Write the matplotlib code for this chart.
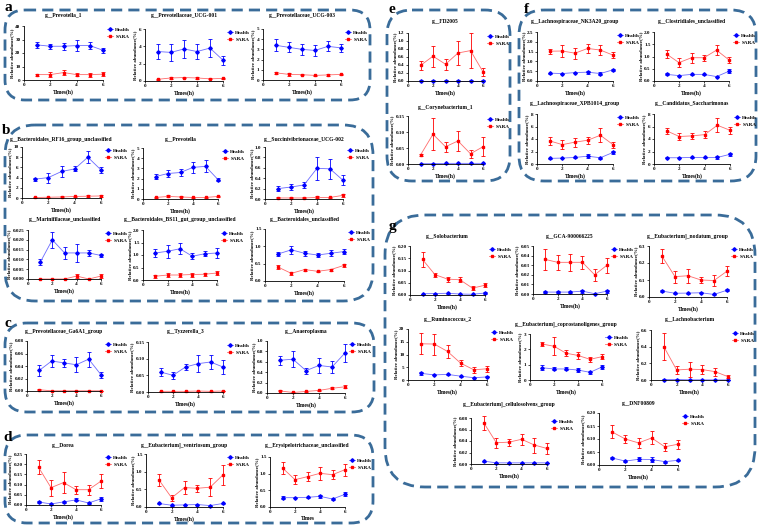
import matplotlib
matplotlib.use('Agg')
import matplotlib.pyplot as plt
from matplotlib.patches import FancyBboxPatch
from matplotlib.lines import Line2D

plt.rcParams['font.family'] = ['Liberation Serif', 'DejaVu Serif']
plt.rcParams['font.weight'] = 'bold'

W, H = 758, 526
times = [1, 2, 3, 4, 5, 6]
x_ticks = [0, 2, 4, 6]

# ---------------- data ----------------
a1_title = 'g__Prevotella_1'
a1_health = [26, 25, 25, 25.5, 25.5, 22]
a1_health_err = [2.5, 2, 2.5, 4, 2.5, 2]
a1_sara = [4, 4, 5.5, 4, 4, 4.3]
a1_sara_err = [0.8, 2, 2, 1.2, 1.5, 1.5]
a1_yticks = [0, 10, 20, 30, 40]

a2_title = 'g__Prevotellaceae_UCG-001'
a2_health = [3.4, 3.3, 3.7, 3.4, 3.8, 2.4]
a2_health_err = [0.9, 1.0, 1.0, 0.9, 1.0, 0.5]
a2_sara = [0.2, 0.35, 0.4, 0.35, 0.25, 0.3]
a2_sara_err = [0.05, 0.15, 0.1, 0.1, 0.05, 0.1]
a2_yticks = [0, 2, 4, 6]

a3_title = 'g__Prevotellaceae_UCG-003'
a3_health = [3.4, 3.2, 3.0, 2.9, 3.3, 3.15]
a3_health_err = [0.6, 0.5, 0.5, 0.5, 0.5, 0.4]
a3_sara = [0.7, 0.55, 0.52, 0.45, 0.5, 0.55]
a3_sara_err = [0.1, 0.15, 0.05, 0.05, 0.1, 0.05]
a3_yticks = [0, 1, 2, 3, 4, 5]

b1_title = 'g__Bacteroidales_RF16_group_unclassified'
b1_health = [3.7, 4.0, 5.2, 5.7, 8.0, 5.5]
b1_health_err = [0.3, 1.0, 1.1, 0.5, 1.2, 0.6]
b1_sara = [0.1, 0.15, 0.2, 0.3, 0.35, 0.4]
b1_sara_err = [0.05, 0.1, 0.1, 0.15, 0.2, 0.2]
b1_yticks = [0, 2, 4, 6, 8, 10]

b2_title = 'g__Prevotella'
b2_health = [2.2, 2.5, 2.6, 3.1, 3.2, 1.9]
b2_health_err = [0.25, 0.3, 0.3, 0.55, 0.6, 0.15]
b2_sara = [0.15, 0.25, 0.2, 0.15, 0.15, 0.25]
b2_sara_err = [0.05, 0.1, 0.05, 0.05, 0.05, 0.05]
b2_yticks = [0, 1, 2, 3, 4, 5]

b3_title = 'g__Succinivibrionaceae_UCG-002'
b3_health = [0.2, 0.23, 0.27, 0.59, 0.58, 0.36]
b3_health_err = [0.05, 0.05, 0.06, 0.22, 0.19, 0.1]
b3_sara = [0.02, 0.02, 0.02, 0.03, 0.03, 0.07]
b3_sara_err = [0.01, 0.01, 0.01, 0.02, 0.01, 0.03]
b3_yticks = [0, 0.2, 0.4, 0.6, 0.8, 1.0]

b4_title = 'g__Marinifilaceae_unclassified'
b4_health = [0.0085, 0.020, 0.0133, 0.0133, 0.0133, 0.012]
b4_health_err = [0.0015, 0.004, 0.003, 0.0045, 0.0015, 0.001]
b4_sara = [0.0, 0.0, 0.0, 0.0015, 0.0, 0.0015]
b4_sara_err = [0.0, 0.0, 0.0, 0.001, 0.0, 0.001]
b4_yticks = [0, 0.005, 0.010, 0.015, 0.020, 0.025]

b5_title = 'g__Bacteroidales_BS11_gut_group_unclassified'
b5_health = [1.08, 1.15, 1.25, 0.95, 1.05, 1.08]
b5_health_err = [0.15, 0.25, 0.22, 0.12, 0.1, 0.2]
b5_sara = [0.15, 0.2, 0.2, 0.22, 0.23, 0.28]
b5_sara_err = [0.05, 0.08, 0.08, 0.08, 0.05, 0.08]
b5_yticks = [0, 0.5, 1.0, 1.5, 2.0]

b6_title = 'g__Bacteroidales_unclassified'
b6_health = [0.78, 0.9, 0.8, 0.75, 0.8, 0.85]
b6_health_err = [0.05, 0.12, 0.07, 0.05, 0.08, 0.08]
b6_sara = [0.4, 0.22, 0.33, 0.28, 0.33, 0.45]
b6_sara_err = [0.05, 0.04, 0.03, 0.02, 0.03, 0.05]
b6_yticks = [0, 0.5, 1.0, 1.5]

c1_title = 'g__Prevotellaceae_Ga6A1_group'
c1_health = [0.033, 0.048, 0.045, 0.042, 0.051, 0.026]
c1_health_err = [0.009, 0.01, 0.006, 0.012, 0.012, 0.005]
c1_sara = [0.002, 0.0003, 0.0003, 0.0003, 0.0003, 0.0003]
c1_sara_err = [0.001, 0.0002, 0.0002, 0.0002, 0.0002, 0.0002]
c1_yticks = [0, 0.02, 0.04, 0.06, 0.08]

c2_title = 'g__Tyzzerella_3'
c2_health = [0.06, 0.05, 0.075, 0.085, 0.09, 0.075]
c2_health_err = [0.012, 0.01, 0.01, 0.025, 0.02, 0.02]
c2_sara = [0.002, 0.002, 0.002, 0.003, 0.002, 0.003]
c2_sara_err = [0.001, 0.001, 0.001, 0.001, 0.001, 0.001]
c2_yticks = [0, 0.05, 0.10, 0.15]

c3_title = 'g__Anaeroplasma'
c3_health = [0.63, 0.65, 0.43, 0.53, 0.5, 0.77]
c3_health_err = [0.09, 0.15, 0.06, 0.14, 0.12, 0.18]
c3_sara = [0.04, 0.01, 0.03, 0.05, 0.09, 0.12]
c3_sara_err = [0.01, 0.01, 0.01, 0.01, 0.02, 0.03]
c3_yticks = [0, 0.2, 0.4, 0.6, 0.8, 1.0]

d1_title = 'g__Dorea'
d1_health = [0.015, 0.005, 0.015, 0.025, 0.01, 0.03]
d1_health_err = [0.003, 0.003, 0.005, 0.007, 0.003, 0.008]
d1_sara = [0.185, 0.085, 0.11, 0.075, 0.075, 0.117]
d1_sara_err = [0.035, 0.04, 0.05, 0.02, 0.025, 0.035]
d1_yticks = [0, 0.05, 0.10, 0.15, 0.20, 0.25]

d2_title = 'g__Eubacterium]_ventriosum_group'
d2_health = [0.1, 0.05, 0.06, 0.07, 0.04, 0.1]
d2_health_err = [0.02, 0.01, 0.01, 0.01, 0.01, 0.02]
d2_sara = [0.77, 0.26, 0.55, 0.53, 0.56, 0.91]
d2_sara_err = [0.17, 0.08, 0.18, 0.1, 0.25, 0.28]
d2_yticks = [0, 0.5, 1.0, 1.5]

d3_title = 'g__Erysipelotrichaceae_unclassified'
d3_health = [0.28, 0.28, 0.29, 0.32, 0.24, 0.38]
d3_health_err = [0.04, 0.02, 0.02, 0.05, 0.03, 0.06]
d3_sara = [1.17, 0.82, 0.91, 1.01, 0.97, 1.12]
d3_sara_err = [0.17, 0.13, 0.13, 0.2, 0.13, 0.18]
d3_yticks = [0, 0.5, 1.0, 1.5]

e1_title = 'g__FD2005'
e1_health = [0.01, 0.01, 0.01, 0.01, 0.01, 0.01]
e1_health_err = [0.003, 0.003, 0.003, 0.003, 0.003, 0.003]
e1_sara = [0.39, 0.62, 0.42, 0.70, 0.76, 0.23]
e1_sara_err = [0.12, 0.26, 0.14, 0.3, 0.43, 0.1]
e1_yticks = [0, 0.2, 0.4, 0.6, 0.8, 1.0, 1.2]

e2_title = 'g__Corynebacterium_1'
e2_health = [0.001, 0.001, 0.002, 0.002, 0.002, 0.002]
e2_health_err = [0.0005, 0.0005, 0.001, 0.001, 0.001, 0.001]
e2_sara = [0.028, 0.093, 0.054, 0.072, 0.032, 0.054]
e2_sara_err = [0.004, 0.05, 0.015, 0.03, 0.012, 0.03]
e2_yticks = [0, 0.05, 0.10, 0.15]

f1_title = 'g__Lachnospiraceae_NK3A20_group'
f1_health = [0.4, 0.38, 0.43, 0.45, 0.38, 0.57]
f1_health_err = [0.03, 0.03, 0.03, 0.07, 0.07, 0.05]
f1_sara = [1.52, 1.53, 1.42, 1.66, 1.58, 1.32]
f1_sara_err = [0.12, 0.32, 0.28, 0.25, 0.25, 0.15]
f1_yticks = [0, 0.5, 1.0, 1.5, 2.0, 2.5]

f2_title = 'g__Clostridiales_unclassified'
f2_health = [0.27, 0.22, 0.27, 0.27, 0.18, 0.4]
f2_health_err = [0.04, 0.02, 0.02, 0.02, 0.02, 0.08]
f2_sara = [1.1, 0.75, 0.95, 0.95, 1.26, 0.86]
f2_sara_err = [0.15, 0.17, 0.2, 0.12, 0.2, 0.12]
f2_yticks = [0, 0.5, 1.0, 1.5, 2.0]

f3_title = 'g__Lachnospiraceae_XPB1014_group'
f3_health = [0.9, 0.95, 1.05, 1.25, 1.0, 1.85]
f3_health_err = [0.05, 0.05, 0.1, 0.3, 0.2, 0.2]
f3_sara = [3.7, 3.1, 3.5, 3.8, 4.6, 3.1]
f3_sara_err = [0.7, 0.7, 0.7, 0.6, 1.1, 0.5]
f3_yticks = [0, 2, 4, 6, 8]

f4_title = 'g__Candidatus_Saccharimonas'
f4_health = [1.0, 1.0, 1.05, 1.05, 1.05, 1.55]
f4_health_err = [0.05, 0.05, 0.05, 0.05, 0.3, 0.2]
f4_sara = [5.3, 4.4, 4.5, 4.7, 6.2, 5.4]
f4_sara_err = [0.5, 0.6, 0.5, 0.6, 1.1, 0.6]
f4_yticks = [0, 2, 4, 6, 8]

g1_title = 'g__Solobacterium'
g1_health = [0.005, 0.006, 0.007, 0.004, 0.003, 0.008]
g1_health_err = [0.001, 0.002, 0.002, 0.001, 0.001, 0.003]
g1_sara = [0.145, 0.083, 0.065, 0.062, 0.028, 0.04]
g1_sara_err = [0.03, 0.008, 0.01, 0.01, 0.008, 0.008]
g1_yticks = [0, 0.05, 0.10, 0.15, 0.20]

g2_title = 'g__GCA-900066225'
g2_health = [0.002, 0.002, 0.002, 0.003, 0.0003, 0.003]
g2_health_err = [0.001, 0.001, 0.001, 0.0015, 0.0002, 0.0015]
g2_sara = [0.036, 0.033, 0.033, 0.033, 0.02, 0.03]
g2_sara_err = [0.011, 0.008, 0.009, 0.007, 0.006, 0.008]
g2_yticks = [0, 0.01, 0.02, 0.03, 0.04, 0.05]

g3_title = 'g__Eubacterium]_nodatum_group'
g3_health = [0.035, 0.022, 0.023, 0.025, 0.015, 0.04]
g3_health_err = [0.006, 0.003, 0.003, 0.004, 0.003, 0.007]
g3_sara = [0.24, 0.12, 0.125, 0.1, 0.097, 0.152]
g3_sara_err = [0.04, 0.035, 0.04, 0.02, 0.03, 0.03]
g3_yticks = [0, 0.1, 0.2, 0.3]

g4_title = 'g__Ruminococcus_2'
g4_health = [2.6, 2.0, 2.2, 1.5, 0.9, 1.2]
g4_health_err = [0.5, 0.2, 0.3, 0.2, 0.1, 0.2]
g4_sara = [14.2, 14.1, 11.2, 6.6, 4.0, 4.4]
g4_sara_err = [4.1, 4.1, 2.5, 1.3, 1.2, 1.1]
g4_yticks = [0, 5, 10, 15, 20]

g5_title = 'g__Eubacterium]_coprostanoligenes_group'
g5_health = [0.8, 0.72, 0.72, 0.65, 0.5, 0.85]
g5_health_err = [0.15, 0.1, 0.1, 0.15, 0.1, 0.15]
g5_sara = [2.35, 2.2, 1.75, 1.6, 1.35, 1.52]
g5_sara_err = [0.15, 0.6, 0.2, 0.2, 0.15, 0.15]
g5_yticks = [0, 1, 2, 3]

g6_title = 'g__Lachnobacterium'
g6_health = [0.005, 0.006, 0.002, 0.002, 0.001, 0.001]
g6_health_err = [0.002, 0.002, 0.001, 0.001, 0.001, 0.001]
g6_sara = [0.4, 0.12, 0.13, 0.125, 0.1, 0.04]
g6_sara_err = [0.16, 0.05, 0.09, 0.05, 0.05, 0.02]
g6_yticks = [0, 0.2, 0.4, 0.6]

g7_title = 'g__Eubacterium]_cellulosolvens_group'
g7_health = [0.005, 0.002, 0.002, 0.002, 0.002, 0.002]
g7_health_err = [0.001, 0.0005, 0.0005, 0.0005, 0.0005, 0.0005]
g7_sara = [0.072, 0.037, 0.038, 0.043, 0.033, 0.027]
g7_sara_err = [0.012, 0.009, 0.006, 0.01, 0.013, 0.009]
g7_yticks = [0, 0.02, 0.04, 0.06, 0.08]

g8_title = 'g__DNF00809'
g8_health = [0.027, 0.015, 0.022, 0.021, 0.013, 0.018]
g8_health_err = [0.004, 0.003, 0.008, 0.008, 0.004, 0.003]
g8_sara = [0.127, 0.1, 0.085, 0.104, 0.07, 0.08]
g8_sara_err = [0.025, 0.015, 0.02, 0.025, 0.015, 0.018]
g8_yticks = [0, 0.05, 0.10, 0.15, 0.20]

# ---------------- layout (pixels): x at 0, x at 6, y at top, y at 0, title y ----
panels = [
    (a1_title, a1_health, a1_health_err, a1_sara, a1_sara_err, a1_yticks, (24, 103, 26, 80, 15), '{:.0f}', 'Times(h)'),
    (a2_title, a2_health, a2_health_err, a2_sara, a2_sara_err, a2_yticks, (145, 223, 29, 81, 15), '{:.0f}', 'Times(h)'),
    (a3_title, a3_health, a3_health_err, a3_sara, a3_sara_err, a3_yticks, (263, 341, 29, 80, 15), '{:.0f}', 'Times(h)'),
    (b1_title, b1_health, b1_health_err, b1_sara, b1_sara_err, b1_yticks, (22, 101, 147, 198, 139), '{:.0f}', 'Times(h)'),
    (b2_title, b2_health, b2_health_err, b2_sara, b2_sara_err, b2_yticks, (143, 218, 148, 199, 139), '{:.0f}', 'Times(h)'),
    (b3_title, b3_health, b3_health_err, b3_sara, b3_sara_err, b3_yticks, (265, 343, 147, 199, 139), '{:.1f}', 'Times(h)'),
    (b4_title, b4_health, b4_health_err, b4_sara, b4_sara_err, b4_yticks, (28, 101, 230, 279, 220), '{:.3f}', 'Times(h)'),
    (b5_title, b5_health, b5_health_err, b5_sara, b5_sara_err, b5_yticks, (143, 217, 230, 280, 220), '{:.1f}', 'Times(h)'),
    (b6_title, b6_health, b6_health_err, b6_sara, b6_sara_err, b6_yticks, (265, 344, 229, 281, 220), '{:.1f}', 'Times(h)'),
    (c1_title, c1_health, c1_health_err, c1_sara, c1_sara_err, c1_yticks, (27, 101, 341, 391, 332), '{:.2f}', 'Times(h)'),
    (c2_title, c2_health, c2_health_err, c2_sara, c2_sara_err, c2_yticks, (148, 223, 342, 392, 332), '{:.2f}', 'Times(h)'),
    (c3_title, c3_health, c3_health_err, c3_sara, c3_sara_err, c3_yticks, (267, 345, 341, 393, 332), '{:.1f}', 'Times(h)'),
    (d1_title, d1_health, d1_health_err, d1_sara, d1_sara_err, d1_yticks, (26, 101, 454, 505, 445), '{:.2f}', 'Times(h)'),
    (d2_title, d2_health, d2_health_err, d2_sara, d2_sara_err, d2_yticks, (146, 223, 454, 507, 445), '{:.1f}', 'Times(h)'),
    (d3_title, d3_health, d3_health_err, d3_sara, d3_sara_err, d3_yticks, (270, 345, 457, 507, 445), '{:.1f}', 'Times'),
    (e1_title, e1_health, e1_health_err, e1_sara, e1_sara_err, e1_yticks, (408, 483, 33, 81, 22), '{:.1f}', 'Times(h)'),
    (e2_title, e2_health, e2_health_err, e2_sara, e2_sara_err, e2_yticks, (408, 483, 116, 164, 107), '{:.2f}', 'Times(h)'),
    (f1_title, f1_health, f1_health_err, f1_sara, f1_sara_err, f1_yticks, (537, 613, 32, 81, 22), '{:.1f}', 'Times(h)'),
    (f2_title, f2_health, f2_health_err, f2_sara, f2_sara_err, f2_yticks, (654, 729, 32, 81, 22), '{:.1f}', 'Times(h)'),
    (f3_title, f3_health, f3_health_err, f3_sara, f3_sara_err, f3_yticks, (537, 613, 114, 164, 104), '{:.0f}', 'Times(h)'),
    (f4_title, f4_health, f4_health_err, f4_sara, f4_sara_err, f4_yticks, (654, 730, 114, 164, 104), '{:.0f}', 'Times(h)'),
    (g1_title, g1_health, g1_health_err, g1_sara, g1_sara_err, g1_yticks, (410, 485, 246, 295, 236), '{:.2f}', 'Times(h)'),
    (g2_title, g2_health, g2_health_err, g2_sara, g2_sara_err, g2_yticks, (533, 607, 246, 294, 236), '{:.2f}', 'Times(h)'),
    (g3_title, g3_health, g3_health_err, g3_sara, g3_sara_err, g3_yticks, (649, 727, 246, 297, 236), '{:.1f}', 'Times(h)'),
    (g4_title, g4_health, g4_health_err, g4_sara, g4_sara_err, g4_yticks, (408, 487, 329, 380, 320), '{:.0f}', 'Times(h)'),
    (g5_title, g5_health, g5_health_err, g5_sara, g5_sara_err, g5_yticks, (530, 602, 334, 380, 324), '{:.0f}', 'Times(h)'),
    (g6_title, g6_health, g6_health_err, g6_sara, g6_sara_err, g6_yticks, (651, 728, 330, 380, 320), '{:.1f}', 'Times(h)'),
    (g7_title, g7_health, g7_health_err, g7_sara, g7_sara_err, g7_yticks, (471, 547, 418, 464, 404), '{:.2f}', 'Times(h)'),
    (g8_title, g8_health, g8_health_err, g8_sara, g8_sara_err, g8_yticks, (599, 678, 413, 465, 404), '{:.2f}', 'Times(h)'),
]

BLUE, BLUE_L = '#0000ff', '#6b6bff'
RED, RED_L = '#ff0000', '#ff6b6b'
BOX = '#3a6c99'

fig = plt.figure(figsize=(W / 100, H / 100), dpi=100)
fig.patch.set_facecolor('white')

bg = fig.add_axes([0, 0, 1, 1], zorder=-1)
bg.set_xlim(0, W)
bg.set_ylim(H, 0)
bg.axis('off')

boxes = [
    (5, 10, 365, 90, 20),
    (5, 125, 368, 176, 30),
    (5, 323, 369, 89, 22),
    (5, 435, 368, 88, 22),
    (387, 10, 123, 171, 25),
    (519, 10, 237, 171, 25),
    (385, 215, 370, 272, 40),
]
for (bx, by, bw, bh, r) in boxes:
    bg.add_patch(FancyBboxPatch((bx, by), bw, bh,
                                boxstyle=f'round,pad=0,rounding_size={r}',
                                fill=False, ec=BOX, lw=2.0,
                                ls=(0, (4, 2.2))))

letters = [('a', 8, 11), ('b', 6, 134), ('c', 8, 327), ('d', 8, 441),
           ('e', 392, 13), ('f', 526, 13), ('g', 392, 230)]
for (t, lx, ly) in letters:
    bg.text(lx, ly, t, fontsize=11, fontweight='bold', ha='center', va='baseline',
            family=['Liberation Serif', 'DejaVu Serif'])

for (title, h, he, s, se, yt, lay, fmt, xl) in panels:
    x0, x6, ytp, y0, ty = lay
    ax = fig.add_axes([x0 / W, 1 - y0 / H, (x6 - x0) / W, (y0 - ytp) / H])
    ax.set_facecolor('none')
    ax.errorbar(times, h, yerr=he, color=BLUE_L, ecolor=BLUE, marker='D', ms=1.8,
                mfc=BLUE, mec=BLUE, lw=0.6, elinewidth=0.6, capsize=1.2,
                capthick=0.6, label='Health', clip_on=False)
    ax.errorbar(times, s, yerr=se, color=RED_L, ecolor=RED, marker='s', ms=1.8,
                mfc=RED, mec=RED, lw=0.6, elinewidth=0.6, capsize=1.2,
                capthick=0.6, label='SARA', clip_on=False)
    ax.set_xlim(0, 6)
    ax.set_ylim(0, yt[-1])
    ax.set_xticks(x_ticks)
    ax.set_xticklabels([str(v) for v in x_ticks])
    ax.set_yticks(yt)
    ax.set_yticklabels([fmt.format(v) for v in yt])
    for sp in ['top', 'right']:
        ax.spines[sp].set_visible(False)
    for sp in ['left', 'bottom']:
        ax.spines[sp].set_linewidth(0.6)
    ax.tick_params(axis='both', labelsize=3.7, length=1.5, width=0.5, pad=1)
    ax.set_xlabel(xl, fontsize=4, labelpad=1, fontweight='bold')
    ax.set_ylabel('Relative abundance(%)', fontsize=3.5, labelpad=1, fontweight='bold')
    fig.text((x0 + x6) / 2 / W, 1 - ty / H, title, ha='center', va='center',
             fontsize=4, fontweight='bold')
    handles = [Line2D([], [], color=BLUE_L, marker='D', ms=1.8, mfc=BLUE, mec=BLUE, lw=0.6),
               Line2D([], [], color=RED_L, marker='s', ms=1.8, mfc=RED, mec=RED, lw=0.6)]
    ax.legend(handles, ['Health', 'SARA'], loc='upper left', bbox_to_anchor=(1.02, 1.02),
              frameon=False, fontsize=3.7, handlelength=1.3, borderaxespad=0,
              labelspacing=0.5, handletextpad=0.4)

fig.savefig('out.png', dpi=100)
